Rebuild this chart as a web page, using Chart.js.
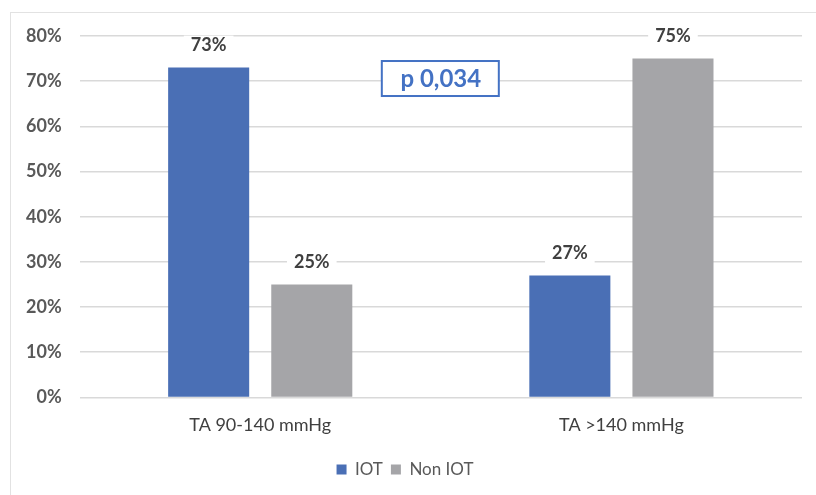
<!DOCTYPE html>
<html>
<head>
<meta charset="utf-8">
<script src="https://cdn.jsdelivr.net/npm/chart.js@4.4.1/dist/chart.umd.min.js"></script>
<style>
  html, body { margin: 0; padding: 0; background: #fff; }
  #wrap { position: relative; width: 816px; height: 495px; }
  #frame { position: absolute; left: 10px; top: 12px; right: 0; bottom: 0;
           border-left: 1px solid #e2e2e2; border-top: 1px solid #e2e2e2; }
  canvas { position: absolute; left: 0; top: 0; }
</style>
</head>
<body>
<div id="wrap">
  <div id="frame"></div>
  <canvas id="chart" width="816" height="495"></canvas>
</div>
<script>
const categories = ['TA 90-140 mmHg', 'TA >140 mmHg'];
const seriesNames = ['IOT', 'Non IOT'];
const iotValues = [73, 27];
const nonIotValues = [25, 75];
const yTicks = [0, 10, 20, 30, 40, 50, 60, 70, 80];
const pValueText = 'p 0,034';

const FONT = 'Lato, "Open Sans", sans-serif';

// value labels above bars, on white so the gridlines break around them
const barLabels = {
    id: 'barLabels',
    afterDatasetsDraw(chart) {
        const ctx = chart.ctx;
        ctx.save();
        ctx.font = 'bold 18px ' + FONT;
        ctx.textAlign = 'center';
        ctx.textBaseline = 'middle';
        chart.data.datasets.forEach((ds, i) => {
            chart.getDatasetMeta(i).data.forEach((bar, j) => {
                const txt = ds.data[j] + '%';
                const y = bar.y - 22;
                const w = ctx.measureText(txt).width + 14;
                ctx.fillStyle = '#fff';
                ctx.fillRect(bar.x - w / 2, y - 10, w, 20);
                ctx.fillStyle = '#404040';
                ctx.fillText(txt, bar.x, y);
            });
        });
        ctx.restore();
    }
};

// the boxed p value between the two groups
const pBox = {
    id: 'pBox',
    afterDatasetsDraw(chart) {
        const ctx = chart.ctx;
        const x = chart.scales.x.getPixelForValue(0.5);
        const y = chart.scales.y.getPixelForValue(70.7);
        ctx.save();
        ctx.fillStyle = '#fff';
        ctx.fillRect(x - 59, y - 17, 117, 35);
        ctx.strokeStyle = '#4472c4';
        ctx.lineWidth = 2;
        ctx.strokeRect(x - 59, y - 17, 117, 35);
        ctx.font = 'bold 24px ' + FONT;
        ctx.fillStyle = '#4472c4';
        ctx.textAlign = 'center';
        ctx.textBaseline = 'middle';
        ctx.fillText(pValueText, x, y + 1);
        ctx.restore();
    }
};

new Chart(document.getElementById('chart').getContext('2d'), {
    type: 'bar',
    data: {
        labels: categories,
        datasets: [{
            label: seriesNames[0],
            data: iotValues,
            backgroundColor: '#4a6fb5',
            borderWidth: 0
        }, {
            label: seriesNames[1],
            data: nonIotValues,
            backgroundColor: '#a5a5a8',
            borderWidth: 0
        }]
    },
    options: {
        responsive: false,
        animation: false,
        devicePixelRatio: 1,
        categoryPercentage: 0.571,
        barPercentage: 0.786,
        layout: { padding: { top: 36, right: 14, left: 8, bottom: 7 } },
        plugins: {
            legend: {
                position: 'bottom',
                labels: {
                    boxWidth: 10,
                    boxHeight: 10,
                    padding: 8,
                    color: '#595959',
                    font: { family: FONT, size: 17 }
                }
            },
            tooltip: { enabled: false }
        },
        scales: {
            x: {
                grid: { display: false, drawTicks: false },
                border: { display: false },
                ticks: {
                    color: '#404040',
                    padding: 17,
                    font: { family: FONT, size: 18 }
                }
            },
            y: {
                min: 0,
                max: 80,
                afterBuildTicks: axis => { axis.ticks = yTicks.map(v => ({ value: v })); },
                grid: { color: '#d9d9d9', lineWidth: 1.5, drawTicks: false },
                border: { display: false },
                ticks: {
                    color: '#595959',
                    padding: 18,
                    font: { family: FONT, size: 18, weight: 'bold' },
                    callback: v => v + '%'
                }
            }
        }
    },
    plugins: [barLabels, pBox]
});
</script>
</body>
</html>
